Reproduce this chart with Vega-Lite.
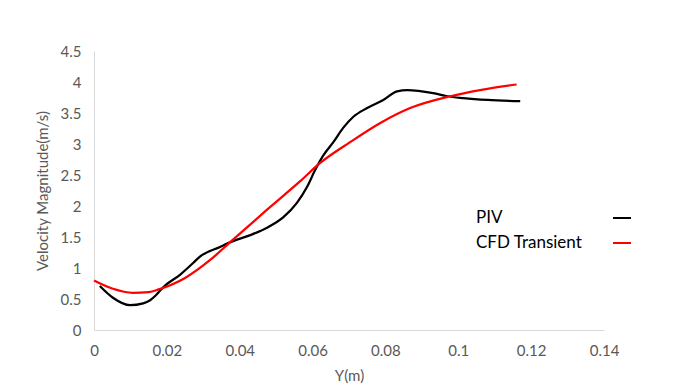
{
  "$schema": "https://vega.github.io/schema/vega-lite/v6.json",
  "autosize": {"type": "none"},
  "padding": {"left": 94, "top": 51, "right": 70, "bottom": 58},
  "width": 510,
  "height": 279,
  "background": "white",
  "config": {
    "view": {"stroke": null},
    "font": "Lato",
    "axis": {"grid": false, "ticks": false, "domainColor": "#d9d9d9", "domainWidth": 1, "labelColor": "#595959", "labelFontSize": 15, "titleColor": "#595959", "titleFontSize": 15, "titleFontWeight": "normal", "labelFont": "Lato", "titleFont": "Lato", "format": "~g"}
  },
  "data": {"values": [
    {"s": "PIV", "x": 0.0016, "v": 0.71},
    {"s": "PIV", "x": 0.0052, "v": 0.52},
    {"s": "PIV", "x": 0.0099, "v": 0.40},
    {"s": "PIV", "x": 0.0135, "v": 0.43},
    {"s": "PIV", "x": 0.0154, "v": 0.48},
    {"s": "PIV", "x": 0.017, "v": 0.56},
    {"s": "PIV", "x": 0.019, "v": 0.69},
    {"s": "PIV", "x": 0.0236, "v": 0.89},
    {"s": "PIV", "x": 0.0272, "v": 1.08},
    {"s": "PIV", "x": 0.029, "v": 1.18},
    {"s": "PIV", "x": 0.0346, "v": 1.34},
    {"s": "PIV", "x": 0.038, "v": 1.43},
    {"s": "PIV", "x": 0.0429, "v": 1.53},
    {"s": "PIV", "x": 0.0475, "v": 1.65},
    {"s": "PIV", "x": 0.052, "v": 1.82},
    {"s": "PIV", "x": 0.0557, "v": 2.05},
    {"s": "PIV", "x": 0.0585, "v": 2.31},
    {"s": "PIV", "x": 0.0607, "v": 2.58},
    {"s": "PIV", "x": 0.063, "v": 2.82},
    {"s": "PIV", "x": 0.0657, "v": 3.03},
    {"s": "PIV", "x": 0.0684, "v": 3.26},
    {"s": "PIV", "x": 0.0712, "v": 3.44},
    {"s": "PIV", "x": 0.075, "v": 3.58},
    {"s": "PIV", "x": 0.0794, "v": 3.71},
    {"s": "PIV", "x": 0.0832, "v": 3.85},
    {"s": "PIV", "x": 0.086, "v": 3.87},
    {"s": "PIV", "x": 0.0931, "v": 3.82},
    {"s": "PIV", "x": 0.097, "v": 3.77},
    {"s": "PIV", "x": 0.1014, "v": 3.74},
    {"s": "PIV", "x": 0.108, "v": 3.71},
    {"s": "PIV", "x": 0.117, "v": 3.69},
    {"s": "CFD Transient", "x": 0.0, "v": 0.80},
    {"s": "CFD Transient", "x": 0.005, "v": 0.67},
    {"s": "CFD Transient", "x": 0.0107, "v": 0.60},
    {"s": "CFD Transient", "x": 0.015, "v": 0.61},
    {"s": "CFD Transient", "x": 0.018, "v": 0.66},
    {"s": "CFD Transient", "x": 0.025, "v": 0.84},
    {"s": "CFD Transient", "x": 0.0319, "v": 1.13},
    {"s": "CFD Transient", "x": 0.038, "v": 1.45},
    {"s": "CFD Transient", "x": 0.0475, "v": 1.94},
    {"s": "CFD Transient", "x": 0.0566, "v": 2.40},
    {"s": "CFD Transient", "x": 0.062, "v": 2.69},
    {"s": "CFD Transient", "x": 0.0703, "v": 3.03},
    {"s": "CFD Transient", "x": 0.0786, "v": 3.34},
    {"s": "CFD Transient", "x": 0.0868, "v": 3.58},
    {"s": "CFD Transient", "x": 0.0978, "v": 3.77},
    {"s": "CFD Transient", "x": 0.106, "v": 3.87},
    {"s": "CFD Transient", "x": 0.116, "v": 3.96}
  ]},
  "mark": {"type": "line", "strokeWidth": 2.25, "interpolate": "monotone"},
  "encoding": {
    "x": {"field": "x", "type": "quantitative", "title": "Y(m)",
      "scale": {"domain": [0, 0.14], "nice": false},
      "axis": {"values": [0, 0.02, 0.04, 0.06, 0.08, 0.1, 0.12, 0.14], "format": "~g", "labelPadding": 13, "titlePadding": 10, "labelFlush": false}},
    "y": {"field": "v", "type": "quantitative", "title": "Velocity Magnitude(m/s)",
      "scale": {"domain": [0, 4.5], "nice": false},
      "axis": {"values": [0, 0.5, 1, 1.5, 2, 2.5, 3, 3.5, 4, 4.5], "format": "~g", "labelPadding": 13, "titlePadding": 10, "labelFlush": false}},
    "color": {"field": "s", "type": "nominal", "sort": ["PIV", "CFD Transient"],
      "scale": {"domain": ["PIV", "CFD Transient"], "range": ["#000000", "#ff0000"]},
      "legend": {"title": null, "orient": "none", "legendX": 361, "legendY": 157, "symbolType": "stroke", "symbolSize": 324, "symbolStrokeWidth": 2, "symbolOffset": 157, "labelOffset": -156, "labelLimit": 300, "labelFontSize": 17, "labelColor": "#000000", "labelFont": "Lato", "rowPadding": 7}
    }
  }
}
